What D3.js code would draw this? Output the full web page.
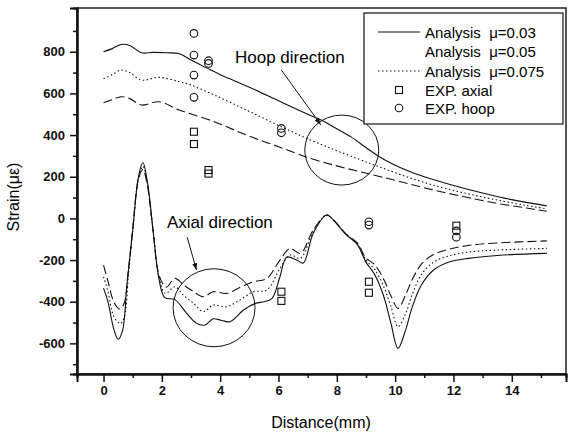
<!DOCTYPE html>
<html>
<head>
<meta charset="utf-8">
<script src="https://cdn.jsdelivr.net/npm/d3@7"></script>
<style>
  body { margin: 0; background: #fff; }
  svg { display: block; font-family: "Liberation Sans", Arial, sans-serif; }
</style>
</head>
<body>
<div id="chart"></div>
<script>
// hoop strain curves [distance mm, strain]
const hoop003 = [[0,800],[0.3,815],[0.6,835],[0.9,830],[1.3,795],[1.7,797],[2.2,795],[2.6,790],[3.0,760],[3.5,725],[4.0,690],[4.5,660],[5,630],[6,565],[7,500],[7.5,470],[8,430],[8.5,390],[9,340],[9.5,292],[10,255],[10.5,225],[11,200],[11.5,178],[12,158],[13,122],[14,90],[15.2,60]];
const hoop005 = [[0,555],[0.3,570],[0.6,584],[0.9,575],[1.3,544],[1.9,560],[2.6,520],[3.8,464],[4.9,400],[6.0,344],[7.1,288],[8,252],[8.8,224],[9.5,200],[10.5,165],[11.5,130],[12.5,100],[13.5,72],[14.5,50],[15.2,34]];
const hoop0075 = [[0,670],[0.3,690],[0.6,712],[0.9,700],[1.3,664],[1.9,677],[2.6,656],[3.0,640],[3.8,592],[4.9,520],[6.1,440],[7.1,376],[8,325],[8.8,282],[9.5,245],[10.5,195],[11.5,152],[12.5,118],[13.5,88],[14.5,62],[15.2,46]];

// axial strain curves
const axial003 = [[0,-335],[0.15,-400],[0.35,-530],[0.5,-580],[0.65,-540],[0.8,-320],[1.0,-60],[1.2,200],[1.35,268],[1.5,180],[1.7,-60],[1.9,-290],[2.1,-380],[2.45,-390],[2.85,-456],[3.19,-504],[3.48,-512],[3.76,-482],[4.05,-490],[4.34,-496],[4.8,-440],[5.21,-408],[5.5,-400],[5.78,-384],[6.05,-280],[6.28,-186],[6.62,-200],[6.85,-214],[7.19,-72],[7.65,16],[7.9,-10],[8.3,-75],[8.7,-125],[9.0,-210],[9.3,-270],[9.6,-370],[9.85,-500],[10.1,-624],[10.35,-540],[10.6,-420],[10.9,-320],[11.3,-250],[11.8,-212],[12.5,-192],[13.5,-178],[15.2,-168]];
const axial005 = [[0,-225],[0.15,-300],[0.35,-400],[0.55,-435],[0.7,-410],[0.85,-250],[1.0,-50],[1.2,190],[1.35,235],[1.5,160],[1.7,-60],[1.9,-270],[2.15,-330],[2.45,-288],[2.75,-320],[3.09,-352],[3.43,-376],[3.76,-352],[4.22,-360],[4.7,-330],[5.14,-304],[5.6,-288],[6.05,-200],[6.4,-144],[6.75,-168],[7.19,-56],[7.65,16],[7.9,-10],[8.3,-72],[8.7,-118],[9.0,-190],[9.3,-222],[9.6,-290],[9.85,-370],[10.1,-432],[10.35,-370],[10.6,-290],[10.9,-220],[11.3,-175],[11.8,-150],[12.5,-130],[13.5,-118],[15.2,-108]];
const axial0075 = [[0,-280],[0.15,-350],[0.35,-470],[0.58,-505],[0.72,-470],[0.85,-280],[1.0,-55],[1.2,195],[1.35,250],[1.5,170],[1.7,-60],[1.9,-280],[2.12,-360],[2.45,-328],[2.75,-370],[3.09,-408],[3.43,-448],[3.76,-416],[4.22,-424],[4.7,-390],[5.14,-352],[5.6,-344],[6.05,-240],[6.4,-176],[6.75,-192],[7.19,-64],[7.65,16],[7.9,-10],[8.3,-74],[8.7,-122],[9.0,-200],[9.3,-245],[9.6,-325],[9.85,-420],[10.1,-520],[10.35,-460],[10.6,-360],[10.9,-270],[11.3,-212],[11.8,-182],[12.5,-162],[13.5,-152],[15.2,-144]];

// experimental points
const expAxial = [[3.1,416],[3.1,357],[3.6,232],[3.6,215],[6.1,-352],[6.1,-396],[9.1,-304],[9.1,-357],[12.1,-35]];
const expHoop = [[3.1,888],[3.1,784],[3.1,688],[3.1,581],[3.6,757],[3.6,744],[6.1,432],[6.1,411],[9.1,-16],[9.1,-32],[12.1,-60],[12.1,-90]];

const xTicks = [0, 2, 4, 6, 8, 10, 12, 14];
const yTicks = [-600, -400, -200, 0, 200, 400, 600, 800];
const legendLabels = ['Analysis  \u03bc=0.03', 'Analysis  \u03bc=0.05', 'Analysis  \u03bc=0.075', 'EXP. axial', 'EXP. hoop'];

const w = 568, h = 433;
const m = {top: 8, right: 2, bottom: 59, left: 77};

const svg = d3.select('#chart').append('svg')
  .attr('width', w).attr('height', h);

const x = d3.scaleLinear().domain([-0.91, 15.86]).range([m.left, w - m.right]);
const y = d3.scaleLinear().domain([-747, 1010]).range([h - m.bottom, m.top]);

// frame
svg.append('rect')
  .attr('x', m.left).attr('y', m.top)
  .attr('width', w - m.left - m.right).attr('height', h - m.top - m.bottom)
  .attr('fill', 'none').attr('stroke', '#111').attr('stroke-width', 1.4);

// axes
svg.append('g')
  .attr('transform', `translate(0,${h - m.bottom})`)
  .call(d3.axisBottom(x).tickValues(xTicks).tickSize(8).tickPadding(4).tickFormat(d => String(d)));
svg.append('g')
  .attr('transform', `translate(0,${h - m.bottom})`)
  .call(d3.axisBottom(x).tickValues(d3.range(-1, 16, 2).filter(v => v > -0.91)).tickSize(4).tickFormat(''));
svg.append('g')
  .attr('transform', `translate(${m.left},0)`)
  .call(d3.axisLeft(y).tickValues(yTicks).tickSize(7).tickPadding(5).tickFormat(d => String(d)));
svg.append('g')
  .attr('transform', `translate(${m.left},0)`)
  .call(d3.axisLeft(y).tickValues([-700, -500, -300, -100, 100, 300, 500, 700, 900]).tickSize(4).tickFormat(''));

svg.selectAll('.domain').attr('stroke', '#111').attr('stroke-width', 2);
svg.selectAll('.tick line').attr('stroke', '#111').attr('stroke-width', 1.5);
svg.selectAll('.tick text')
  .attr('fill', '#111')
  .style('font-size', '13px')
  .style('font-weight', 'bold');

// axis titles
svg.append('text')
  .attr('x', 321).attr('y', 428)
  .attr('text-anchor', 'middle')
  .style('font-size', '16px')
  .text('Distance(mm)');
svg.append('text')
  .attr('transform', 'translate(19,197) rotate(-90)')
  .attr('text-anchor', 'middle')
  .style('font-size', '16px')
  .text('Strain(\u03bc\u03b5)');

// curves
const line = d3.line()
  .x(d => x(d[0]))
  .y(d => y(d[1]))
  .curve(d3.curveCatmullRom.alpha(0.5));

const styles = [
  {data: hoop003, dash: null},
  {data: hoop005, dash: '9,4'},
  {data: hoop0075, dash: '1.5,2.5'},
  {data: axial003, dash: null},
  {data: axial005, dash: '9,4'},
  {data: axial0075, dash: '1.5,2.5'}
];
styles.forEach(s => {
  svg.append('path')
    .datum(s.data)
    .attr('d', line)
    .attr('fill', 'none')
    .attr('stroke', '#111')
    .attr('stroke-width', 1.1)
    .attr('stroke-dasharray', s.dash);
});

// experimental markers
svg.selectAll('.sq')
  .data(expAxial)
  .enter()
  .append('rect')
  .attr('class', 'sq')
  .attr('x', d => x(d[0]) - 3.5)
  .attr('y', d => y(d[1]) - 3.5)
  .attr('width', 7).attr('height', 7)
  .attr('fill', 'none').attr('stroke', '#111').attr('stroke-width', 1.1);

svg.selectAll('.ci')
  .data(expHoop)
  .enter()
  .append('circle')
  .attr('class', 'ci')
  .attr('cx', d => x(d[0]))
  .attr('cy', d => y(d[1]))
  .attr('r', 3.8)
  .attr('fill', 'none').attr('stroke', '#111').attr('stroke-width', 1.1);

// annotation ellipses and arrows
const marker = svg.append('defs').append('marker')
  .attr('id', 'arr').attr('viewBox', '0 0 10 10')
  .attr('refX', 10).attr('refY', 5)
  .attr('markerWidth', 7).attr('markerHeight', 7)
  .attr('orient', 'auto');
marker.append('path').attr('d', 'M0,1.5 L10,5 L0,8.5 Z').attr('fill', '#111');

svg.append('ellipse')
  .attr('cx', x(8.17)).attr('cy', y(328))
  .attr('rx', 37).attr('ry', 35)
  .attr('fill', 'none').attr('stroke', '#111').attr('stroke-width', 1);
svg.append('ellipse')
  .attr('cx', x(3.79)).attr('cy', y(-429))
  .attr('rx', 41).attr('ry', 39)
  .attr('fill', 'none').attr('stroke', '#111').attr('stroke-width', 1);

svg.append('line')
  .attr('x1', x(6.1)).attr('y1', y(712))
  .attr('x2', x(7.45)).attr('y2', y(450))
  .attr('stroke', '#111').attr('stroke-width', 1).attr('marker-end', 'url(#arr)');
svg.append('line')
  .attr('x1', x(2.87)).attr('y1', y(-91))
  .attr('x2', x(3.19)).attr('y2', y(-248))
  .attr('stroke', '#111').attr('stroke-width', 1).attr('marker-end', 'url(#arr)');

svg.append('text')
  .attr('x', 235).attr('y', 63)
  .style('font-size', '17px')
  .text('Hoop direction');
svg.append('text')
  .attr('x', 167).attr('y', 228)
  .style('font-size', '17px')
  .text('Axial direction');

// legend
const lg = svg.append('g');
lg.append('rect')
  .attr('x', 364).attr('y', 13)
  .attr('width', 199).attr('height', 111)
  .attr('fill', '#fff').attr('stroke', '#111').attr('stroke-width', 1.2);

const rows = [32, 51.5, 71, 90, 108];
legendLabels.forEach((t, i) => {
  lg.append('text')
    .attr('x', 425).attr('y', rows[i] + 5.5)
    .style('font-size', '15px')
    .style('white-space', 'pre')
    .text(t);
});
lg.append('line').attr('x1', 378).attr('x2', 420).attr('y1', rows[0]).attr('y2', rows[0])
  .attr('stroke', '#111').attr('stroke-width', 1.1);
lg.append('line').attr('x1', 378).attr('x2', 420).attr('y1', rows[2]).attr('y2', rows[2])
  .attr('stroke', '#111').attr('stroke-width', 1.1).attr('stroke-dasharray', '1.5,2.5');
lg.append('rect').attr('x', 395.5).attr('y', rows[3] - 3.5).attr('width', 7).attr('height', 7)
  .attr('fill', 'none').attr('stroke', '#111').attr('stroke-width', 1.1);
lg.append('circle').attr('cx', 399).attr('cy', rows[4]).attr('r', 3.8)
  .attr('fill', 'none').attr('stroke', '#111').attr('stroke-width', 1.1);
</script>
</body>
</html>
